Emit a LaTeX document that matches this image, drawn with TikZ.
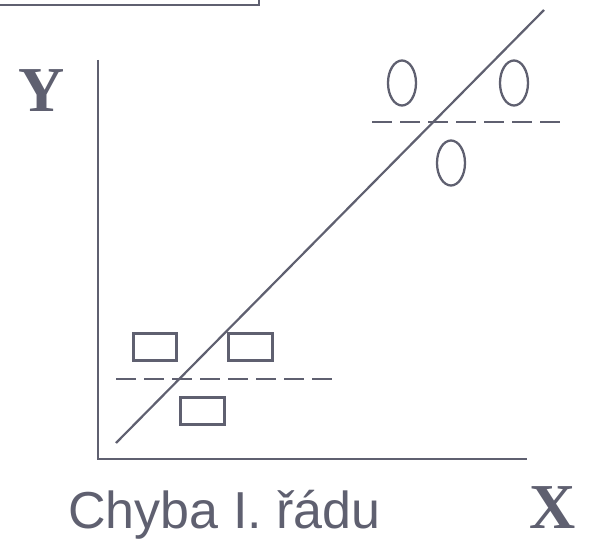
\documentclass[tikz,border=0pt]{standalone}
\usepackage{fontspec}
\setmainfont{Liberation Sans}
\newfontfamily\axisfont{Liberation Serif}
\usepackage{tikz}
\usetikzlibrary{shapes.geometric}

\definecolor{slate}{HTML}{5F6070}

\begin{document}
\begin{tikzpicture}[x=1pt, y=-1pt, line width=2.2pt, draw=slate, text=slate,
    obs/.style={draw=slate, ellipse, line width=2.3pt, minimum width=28pt, minimum height=45pt, inner sep=0pt},
    cell/.style={draw=slate, rectangle, line width=2.6pt, minimum width=43.5pt, minimum height=27.5pt, inner sep=0pt},
    level/.style={draw=slate, line width=2.3pt, dash pattern=on 20pt off 8pt},
    axlabel/.style={font=\axisfont\bfseries\fontsize{64}{70}\selectfont, text=slate}]
    \useasboundingbox (0, 0) rectangle (590, 543);

    % rameček nahoře (useknutý)
    \draw[slate, line width=2.6pt] (-10, -10) rectangle (259, 5);

    % osy
    \coordinate (top) at (98, 60);
    \coordinate (origin) at (98, 459);
    \coordinate (right) at (527, 459);
    \draw[slate] (top) -- (origin) -- (right);

    % regresní přímka
    \coordinate (lo) at (116, 443);
    \coordinate (hi) at (544, 10);
    \draw[slate] (lo) -- (hi);

    % hladiny
    \coordinate (upA) at (372, 122);
    \coordinate (upB) at (562, 122);
    \coordinate (dnA) at (116, 379);
    \coordinate (dnB) at (334, 379);
    \draw[level] (upA) -- (upB);
    \draw[level] (dnA) -- (dnB);

    % kružnice nahoře
    \node[obs] (o1) at (402, 83) {};
    \node[obs] (o2) at (514, 83) {};
    \node[obs] (o3) at (451, 163) {};

    % obdélníky dole
    \node[cell] (r1) at (155, 347) {};
    \node[cell] (r2) at (250.5, 347) {};
    \node[cell] (r3) at (202.5, 411) {};

    \node[axlabel] (ylab) at (42, 91) {Y};
    \node[axlabel] (xlab) at (553, 508) {X};
    \node[text=slate, font=\fontsize{52}{60}\selectfont, anchor=base west] (title) at (64, 528) {Chyba I. řádu};
\end{tikzpicture}
\end{document}
